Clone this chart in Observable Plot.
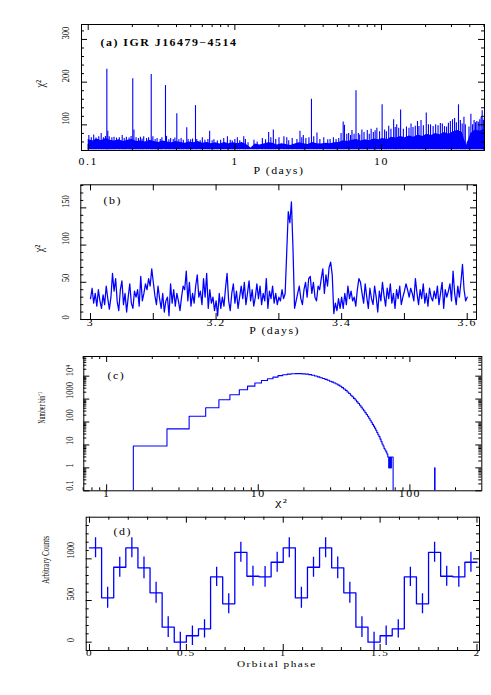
<!DOCTYPE html>
<html><head><meta charset="utf-8">
<script src="https://cdn.jsdelivr.net/npm/d3@7"></script>
<script src="https://cdn.jsdelivr.net/npm/@observablehq/plot@0.6"></script>
<style>
body{margin:0;background:#fff;}
#wrap{position:relative;width:491px;height:695px;overflow:hidden;background:#fff;}
#wrap svg{position:absolute;left:0;overflow:visible;}
</style></head><body><div id="wrap"></div>
<script>
// ---------- Panel (a): periodogram 0.1–50 d ----------
const aBandP = [
0.100,0.107,0.115,0.123,0.132,0.141,0.151,0.162,0.174,0.186,
0.200,0.214,0.229,0.245,0.263,0.282,0.302,0.324,0.347,0.372,
0.398,0.427,0.457,0.490,0.525,0.562,0.603,0.646,0.692,0.741,
0.794,0.851,0.912,0.977,1.05,1.12,1.20,1.29,1.38,1.48,
1.58,1.70,1.82,1.95,2.09,2.24,2.40,2.57,2.75,2.95,
3.16,3.39,3.63,3.89,4.17,4.47,4.79,5.13,5.50,5.89,
6.31,6.76,7.24,7.76,8.32,8.91,9.55,10.2,11.0,11.7,
12.6,13.5,14.5,15.5,16.6,17.8,19.1,20.4,21.9,23.4,
25.1,26.9,28.8,30.9,33.1,35.5,38.0,40.7,43.7,46.8,
50.4];
const aBandTop = [
66,62,67,63,68,64,62,65,61,64,
66,61,63,60,64,61,59,62,60,58,
61,59,57,60,58,61,57,59,56,58,
55,59,56,58,56,59,54,46,55,53,
55,58,57,53,56,54,52,55,58,56,
54,59,56,55,57,56,58,59,63,61,
64,66,62,65,63,67,65,68,66,71,
69,73,70,74,71,76,73,78,75,80,
77,82,78,84,87,83,52,80,88,85,
90];
const aFloor = 42;
const aSpikeP = [
0.101,0.105,0.109,0.113,0.118,0.1226,0.127,0.131,0.134,0.136,
0.139,0.145,0.150,0.156,0.163,0.1705,0.176,0.182,0.190,0.196,
0.2013,0.205,0.212,0.220,0.227,0.233,0.239,0.250,0.258,0.269,
0.276,0.286,0.295,0.310,0.318,0.3365,0.342,0.355,0.365,0.380,
0.390,0.402,0.415,0.430,0.445,0.470,0.480,0.500,0.515,0.539,
0.550,0.580,0.600,0.625,0.655,0.673,0.700,0.720,0.760,0.800,
0.840,0.890,0.930,0.960,1.000,1.040,1.080,1.150,1.180,1.230,
1.350,1.420,1.540,1.620,1.700,1.760,1.830,1.900,2.000,2.160,
2.260,2.330,2.460,2.650,2.780,2.860,2.930,3.050,3.200,3.330,
3.450,3.630,3.800,4.040,4.300,4.460,4.700,4.900,5.110,5.300,
5.480,5.590,5.800,5.970,6.150,6.290,6.500,6.700,6.950,7.100,
7.350,7.600,8.000,8.250,8.500,8.800,9.050,9.300,9.700,10.10,
10.50,10.80,11.20,11.60,12.10,12.40,12.70,13.10,13.50,14.10,
14.80,15.40,15.90,16.40,17.00,17.60,18.00,18.60,19.30,20.20,
20.90,21.60,22.50,23.40,24.30,25.20,26.00,26.90,27.80,28.60,
29.50,30.50,31.50,32.40,33.50,34.50,35.50,36.50,37.30,38.50,
39.50,40.70,41.80,42.80,43.80,44.70,45.70,46.80,47.80,48.60,
49.50,50.20];
const aSpikeChi = [
75,70,76,69,72,80,70,73,230,85,
72,70,71,69,70,75,68,71,69,73,
208,88,70,68,71,67,72,68,70,218,
72,66,68,66,70,192,73,65,68,66,
69,126,65,68,64,93,66,65,67,145,
66,63,70,64,66,85,63,65,62,64,
68,72,64,62,66,70,63,72,66,58,
64,60,68,65,82,70,88,66,70,72,
70,63,68,66,85,70,75,68,70,160,
72,81,66,70,65,66,70,66,68,80,
107,99,78,80,75,87,78,180,80,76,
88,82,87,78,90,82,86,92,84,147,
88,84,97,90,112,94,100,92,135,90,
95,92,102,94,97,108,96,110,98,128,
100,100,96,100,98,103,102,96,95,104,
108,112,115,105,147,110,102,118,100,60,
95,125,100,110,105,108,106,112,118,133,
110,115];
const aXMajor = [0.1, 1, 10];
const aXMinor = [0.2,0.3,0.4,0.5,0.6,0.7,0.8,0.9,2,3,4,5,6,7,8,9,20,30,40,50];
const aYMajor = [100, 200, 300];
const aYMinor = [60,80,120,140,160,180,220,240,260,280,320];
const aXLabels = ["0.1", "1", "10"];
const aYLabels = ["100", "200", "300"];

// ---------- Panel (b): periodogram 3.0–3.6 d ----------
const bPStart = 3.0, bPStep = 0.0025;
const bChi = [
28,42,22,35,18,40,25,15,33,20,45,28,14,30,62,38,55,24,12,40,
52,20,35,10,30,48,22,15,38,30,40,18,58,25,35,48,40,55,45,68,
50,32,20,45,28,15,35,10,25,30,5,48,22,40,18,35,25,12,30,45,
40,65,25,50,18,35,22,45,60,30,38,20,55,30,62,15,40,22,30,12,
25,5,35,15,30,18,42,62,25,12,35,48,22,38,15,30,45,28,50,20,
35,52,25,40,18,30,48,28,45,20,35,25,55,15,38,28,45,22,35,20,
30,25,40,28,35,90,145,130,158,95,15,25,35,45,28,20,40,50,30,55,
58,35,50,30,25,45,40,55,68,35,60,45,70,77,60,8,22,12,28,15,
30,15,35,20,45,28,38,25,30,18,40,55,50,35,22,48,30,15,42,28,
20,45,30,10,38,25,50,32,18,42,28,48,22,35,15,40,28,45,20,30,
38,48,40,30,42,35,25,55,35,20,40,28,48,22,35,18,42,30,25,38,
28,45,20,35,50,15,40,30,38,48,25,65,35,20,45,30,50,74,40,25,
30];
const bXTicks = [3.0,3.1,3.2,3.3,3.4,3.5,3.6];
const bXLabelVals = [3.0, 3.2, 3.4, 3.6];
const bXLabels = ["3", "3.2", "3.4", "3.6"];
const bYMajor = [0, 50, 100, 150];
const bYMinor = [10,20,30,40,60,70,80,90,110,120,130,140,160,170,180];
const bYLabels = ["0", "50", "100", "150"];

// ---------- Panel (c): histogram of chi^2 ----------
const cChi = [
2,3,4,5,6,7,8,9,10,11,
12,13,14,15,16,17,18,19,20,21,
22,23,24,25,26,27,28,29,30,31,
32,33,34,35,36,37,38,39,40,41,
42,43,44,45,46,47,48,49,50,51,
52,53,54,55,56,57,58,59,60,61,
62,63,64,65,66,67,68,69,70,71,
72,73,74,75,76,77];
const cCount = [
9,50,178,417,933,1550,2570,3670,5010,6460,
7760,9120,10500,11500,12300,12700,12900,12900,12600,12300,
11700,11000,10200,9330,8510,7940,7240,6610,6030,5500,
5010,4570,4070,3630,3160,2750,2400,2040,1740,1480,
1260,1070,912,759,646,537,447,372,309,257,
214,178,145,120,98,79,66,54,44,35,
28,23,18,14,11,9,7,6,5,4,
3,1,3,1,3,3];
const cOutlierChi = 146, cOutlierCount = 1;
const cXMajor = [1, 10, 100];
const cXMinor = [0.7,0.8,0.9,2,3,4,5,6,7,8,9,20,30,40,50,60,70,80,90,200];
const cXLabels = ["1", "10", "100"];
const cYMajor = [0.1, 1, 10, 100, 1000, 10000];
const cYMinor = [0.2,0.3,0.4,0.5,0.6,0.7,0.8,0.9,2,3,4,5,6,7,8,9,20,30,40,50,60,70,80,90,
  200,300,400,500,600,700,800,900,2000,3000,4000,5000,6000,7000,8000,9000,20000,30000,40000,50000,60000,70000];
const cYLabels = ["0.1", "1", "10", "100", "1000", "10⁴"];

// ---------- Panel (d): folded light curve (16 bins, shown twice) ----------
const dCounts = [1132, 532, 899, 1132, 892, 592, 180, 0, 77, 160, 784, 460, 1079, 791, 784, 959];
const dErr    = [120, 126, 120, 120, 130, 126, 124, 120, 118, 110, 116, 120, 120, 120, 124, 120];
const dCycles = 2;
const dXMajor = [0, 0.5, 1, 1.5, 2];
const dXMinor = [0.1,0.2,0.3,0.4,0.6,0.7,0.8,0.9,1.1,1.2,1.3,1.4,1.6,1.7,1.8,1.9];
const dXLabels = ["0", "0.5", "1", "1.5", "2"];
const dYMajor = [0, 500, 1000];
const dYMinor = [100,200,300,400,600,700,800,900,1100,1200,1300,1400];
const dYLabels = ["0", "500", "1000"];

// ---------- helpers ----------
const W = 491;
const FONT = "Liberation Serif";
const BLUE = "#0000ff";
const wrap = document.getElementById("wrap");

function frameTicks({xMajor, xMinor, yMajor, yMinor, fw, fh, maj = 6, mnr = 3}) {
  const s = {stroke: "black", strokeWidth: 1};
  return [
    Plot.tickX(xMajor, {x: d => d, insetTop: fh - maj, ...s}),
    Plot.tickX(xMajor, {x: d => d, insetBottom: fh - maj, ...s}),
    Plot.tickX(xMinor, {x: d => d, insetTop: fh - mnr, ...s}),
    Plot.tickX(xMinor, {x: d => d, insetBottom: fh - mnr, ...s}),
    Plot.tickY(yMajor, {y: d => d, insetRight: fw - maj, ...s}),
    Plot.tickY(yMajor, {y: d => d, insetLeft: fw - maj, ...s}),
    Plot.tickY(yMinor, {y: d => d, insetRight: fw - mnr, ...s}),
    Plot.tickY(yMinor, {y: d => d, insetLeft: fw - mnr, ...s}),
    Plot.frame({stroke: "black", strokeWidth: 1})
  ];
}
function xTickLabels(vals, labels, dy, size = 9.5) {
  return Plot.text(vals, {x: d => d, text: (d, i) => labels[i], frameAnchor: "bottom", dy, fontSize: size, fill: "black"});
}
function yTickLabels(vals, labels, dx) {
  return Plot.text(vals, {y: d => d, text: (d, i) => labels[i], frameAnchor: "left", dx, rotate: -90, fontSize: 10, fill: "black"});
}
function yTitle(t, dx, size = 12) {
  return Plot.text([t], {text: d => d, frameAnchor: "left", dx, rotate: -90, fontSize: size, fill: "black"});
}
function xTitle(t, dy, dx = 0, size = 9.5) {
  return Plot.text([t], {text: d => d, frameAnchor: "bottom", dy, dx, fontSize: size, fill: "black"});
}
function panelLabel(t, dx, dy, bold = false) {
  return Plot.text([t], {text: d => d, frameAnchor: "top-left", textAnchor: "start", dx, dy, fontSize: 9.5, fontWeight: bold ? "bold" : "normal", fill: "black"});
}
function restyle(svg, rot = {}) {
  svg.querySelectorAll("text").forEach(t => {
    let tr = t.getAttribute("transform");
    if (!tr) {
      const x = +(t.getAttribute("x") || 0), y = +(t.getAttribute("y") || 0);
      t.removeAttribute("x"); t.removeAttribute("y");
      tr = `translate(${x},${y})`;
    }
    if (tr.includes("rotate")) {
      const k = rot[t.textContent] ?? 0.85;
      t.setAttribute("transform", `${tr} scale(${k},1)`);
    } else {
      t.setAttribute("transform", `${tr} scale(1.25,1)`);
      t.style.letterSpacing = "1.2px";
    }
  });
}
function place(svg, top, rot) {
  restyle(svg, rot);
  svg.style.top = top + "px";
  wrap.appendChild(svg);
}
const baseStyle = {background: "transparent", overflow: "visible", fontFamily: FONT, fontSize: "10px", color: "black"};

// ---------- (a) ----------
{
  const mt = 24, mb = 28, ml = 81, mr = 7, h = 178;
  const fw = W - ml - mr, fh = h - mt - mb;
  const band = aBandP.map((p, i) => ({p, top: aBandTop[i]}));
  const spikes = aSpikeP.map((p, i) => ({p, chi: aSpikeChi[i]}));
  const svg = Plot.plot({
    width: W, height: h, marginTop: mt, marginBottom: mb, marginLeft: ml, marginRight: mr,
    x: {type: "log", domain: [0.09, 50.4], axis: null},
    y: {domain: [40, 335], axis: null},
    style: baseStyle,
    marks: [
      Plot.areaY(band, {x: "p", y1: aFloor, y2: "top", fill: BLUE, clip: true}),
      Plot.ruleX(spikes, {x: "p", y1: aFloor, y2: "chi", stroke: BLUE, strokeWidth: 1.1, clip: true}),
      ...frameTicks({xMajor: aXMajor, xMinor: aXMinor, yMajor: aYMajor, yMinor: aYMinor, fw, fh}),
      xTickLabels(aXMajor, aXLabels, 14),
      yTickLabels(aYMajor, aYLabels, -16),
      yTitle("χ²", -41),
      xTitle("P (days)", 23, -4),
      panelLabel("(a) IGR J16479\u22124514", 19, 15, true)
    ]
  });
  place(svg, 0);
}

// ---------- (b) ----------
{
  const top = 178, mt = 6.3, mb = 23, ml = 80.3, mr = 15, h = 164;
  const fw = W - ml - mr, fh = h - mt - mb;
  const pts = bChi.map((v, i) => ({p: bPStart + i * bPStep, v}));
  const svg = Plot.plot({
    width: W, height: h, marginTop: mt, marginBottom: mb, marginLeft: ml, marginRight: mr,
    x: {domain: [2.9845, 3.6148], axis: null},
    y: {domain: [0, 181], axis: null},
    style: baseStyle,
    marks: [
      Plot.line(pts, {x: "p", y: "v", stroke: BLUE, strokeWidth: 1.25, clip: true}),
      ...frameTicks({xMajor: bXTicks, xMinor: [], yMajor: bYMajor, yMinor: bYMinor, fw, fh}),
      xTickLabels(bXLabelVals, bXLabels, 6),
      yTickLabels(bYMajor, bYLabels, -15),
      yTitle("χ²", -42),
      xTitle("P (days)", 14, -4),
      panelLabel("(b)", 22.7, 12.7)
    ]
  });
  place(svg, top);
}

// ---------- (c) ----------
{
  const top = 342, mt = 14, mb = 19.7, ml = 83.3, mr = 9.7, h = 168;
  const fw = W - ml - mr, fh = h - mt - mb;
  const floor = 0.1;
  const pts = [{x: cChi[0] - 0.5, y: floor, seg: 0}];
  cChi.forEach((c, i) => {
    pts.push({x: c - 0.5, y: cCount[i], seg: 0});
    pts.push({x: c + 0.5, y: cCount[i], seg: 0});
  });
  pts.push({x: cChi[cChi.length - 1] + 0.5, y: floor, seg: 0});
  pts.push({x: cOutlierChi - 0.5, y: floor, seg: 1});
  pts.push({x: cOutlierChi - 0.5, y: cOutlierCount, seg: 1});
  pts.push({x: cOutlierChi + 0.5, y: cOutlierCount, seg: 1});
  pts.push({x: cOutlierChi + 0.5, y: floor, seg: 1});
  const svg = Plot.plot({
    width: W, height: h, marginTop: mt, marginBottom: mb, marginLeft: ml, marginRight: mr,
    x: {type: "log", domain: [0.707, 298], axis: null},
    y: {type: "log", domain: [0.1, 72000], axis: null},
    style: baseStyle,
    marks: [
      Plot.line(pts, {x: "x", y: "y", z: "seg", stroke: BLUE, strokeWidth: 1.1, clip: true}),
      ...frameTicks({xMajor: cXMajor, xMinor: cXMinor, yMajor: cYMajor, yMinor: cYMinor, fw, fh}),
      xTickLabels(cXMajor, cXLabels, 6.4),
      yTickLabels(cYMajor, cYLabels, -14),
      yTitle("Number bin⁻¹", -42, 10),
      xTitle("χ²", 15, -1, 11),
      panelLabel("(c)", 23.7, 15.7)
    ]
  });
  place(svg, top, {"Number bin⁻¹": 0.58});
}

// ---------- (d) ----------
{
  const top = 510, mt = 6.7, mb = 45, ml = 85.7, mr = 12, h = 185;
  const fw = W - ml - mr, fh = h - mt - mb;
  const n = dCounts.length, wbin = 1 / n;
  const bins = [];
  for (let k = 0; k < n * dCycles; k++) {
    const j = k % n;
    bins.push({x0: k * wbin, c: (k + 0.5) * wbin, v: dCounts[j], e: dErr[j]});
  }
  const steps = bins.map(b => ({x: b.x0, v: b.v}));
  steps.push({x: dCycles, v: bins[bins.length - 1].v});
  const svg = Plot.plot({
    width: W, height: h, marginTop: mt, marginBottom: mb, marginLeft: ml, marginRight: mr,
    x: {domain: [-0.017, 2.013], axis: null},
    y: {domain: [-100, 1500], axis: null},
    style: baseStyle,
    marks: [
      Plot.line(steps, {x: "x", y: "v", curve: "step-after", stroke: BLUE, strokeWidth: 1.3, clip: true}),
      Plot.ruleX(bins, {x: "c", y1: d => d.v - d.e, y2: d => d.v + d.e, stroke: BLUE, strokeWidth: 1.3, clip: true}),
      ...frameTicks({xMajor: dXMajor, xMinor: dXMinor, yMajor: dYMajor, yMinor: dYMinor, fw, fh}),
      xTickLabels(dXMajor, dXLabels, 5, 9),
      yTickLabels(dYMajor, dYLabels, -15),
      yTitle("Arbitrary Counts", -41, 11),
      xTitle("Orbital phase", 16, -6, 9),
      panelLabel("(d)", 27.3, 11.3)
    ]
  });
  place(svg, top, {"Arbitrary Counts": 0.64});
}
</script></body></html>
